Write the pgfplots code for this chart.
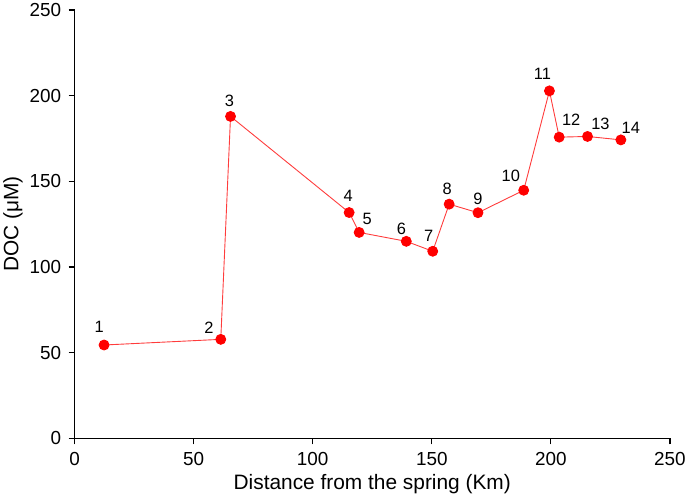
\documentclass[border=0pt]{standalone}
\usepackage{pgfplots}
\pgfplotsset{compat=1.18}
\usepackage{fontspec}
\setmainfont{Liberation Sans}
\definecolor{dotred}{RGB}{255,0,0}
\definecolor{linered}{RGB}{255,60,60}
\begin{document}
\begin{tikzpicture}
\begin{axis}[
  scale only axis,
  width=599pt, height=431pt,
  xmin=0, xmax=250, ymin=0, ymax=250,
  axis lines*=left,
  axis line style={-, line width=1.3pt, black},
  xtick={0,50,100,150,200,250},
  ytick={0,50,100,150,200,250},
  tick style={line width=1.2pt, black},
  tick align=outside,
  major tick length=6pt,
  /pgf/number format/assume math mode=true,
  tick label style={font=\fontsize{19}{22}\selectfont},
  xticklabel style={yshift=-4pt},
  yticklabel style={xshift=-4pt},
  label style={font=\fontsize{21}{24}\selectfont},
  xlabel={Distance from the spring (Km)},
  ylabel={DOC (μM)},
  xlabel style={yshift=-2pt},
  ylabel style={yshift=0pt},
  clip=false,
]
\addplot[color=linered, line width=0.9pt, mark=*, mark size=5pt,
  mark options={fill=dotred, draw=dotred}]
coordinates {
(12.4,54.5) (61.4,57.8) (65.5,187.9) (115.3,131.8) (119.5,120.2)
(139.3,115.0) (150.4,109.2) (157.3,136.7) (169.4,131.7) (188.6,144.8)
(199.4,202.8) (203.5,175.8) (215.4,176.2) (229.4,174.2)
};
\tikzset{lab/.style={font=\fontsize{16.5}{19}\selectfont, inner sep=0pt}}
\node[lab, xshift=-5pt, yshift=18pt] at (axis cs:12.4,54.5) {1};
\node[lab, xshift=-12pt, yshift=12pt] at (axis cs:61.4,57.8) {2};
\node[lab, xshift=-1pt, yshift=16pt] at (axis cs:65.5,187.9) {3};
\node[lab, xshift=-1pt, yshift=17pt] at (axis cs:115.3,131.8) {4};
\node[lab, xshift=8pt, yshift=14pt] at (axis cs:119.5,120.2) {5};
\node[lab, xshift=-5pt, yshift=13pt] at (axis cs:139.3,115.0) {6};
\node[lab, xshift=-4pt, yshift=16pt] at (axis cs:150.4,109.2) {7};
\node[lab, xshift=-2pt, yshift=15pt] at (axis cs:157.3,136.7) {8};
\node[lab, xshift=0pt, yshift=14pt] at (axis cs:169.4,131.7) {9};
\node[lab, xshift=-13pt, yshift=15pt] at (axis cs:188.6,144.8) {10};
\node[lab, xshift=-7pt, yshift=17pt] at (axis cs:199.4,202.8) {11};
\node[lab, xshift=12pt, yshift=17pt] at (axis cs:203.5,175.8) {12};
\node[lab, xshift=13pt, yshift=13pt] at (axis cs:215.4,176.2) {13};
\node[lab, xshift=10pt, yshift=12pt] at (axis cs:229.4,174.2) {14};
\end{axis}
\end{tikzpicture}
\end{document}
